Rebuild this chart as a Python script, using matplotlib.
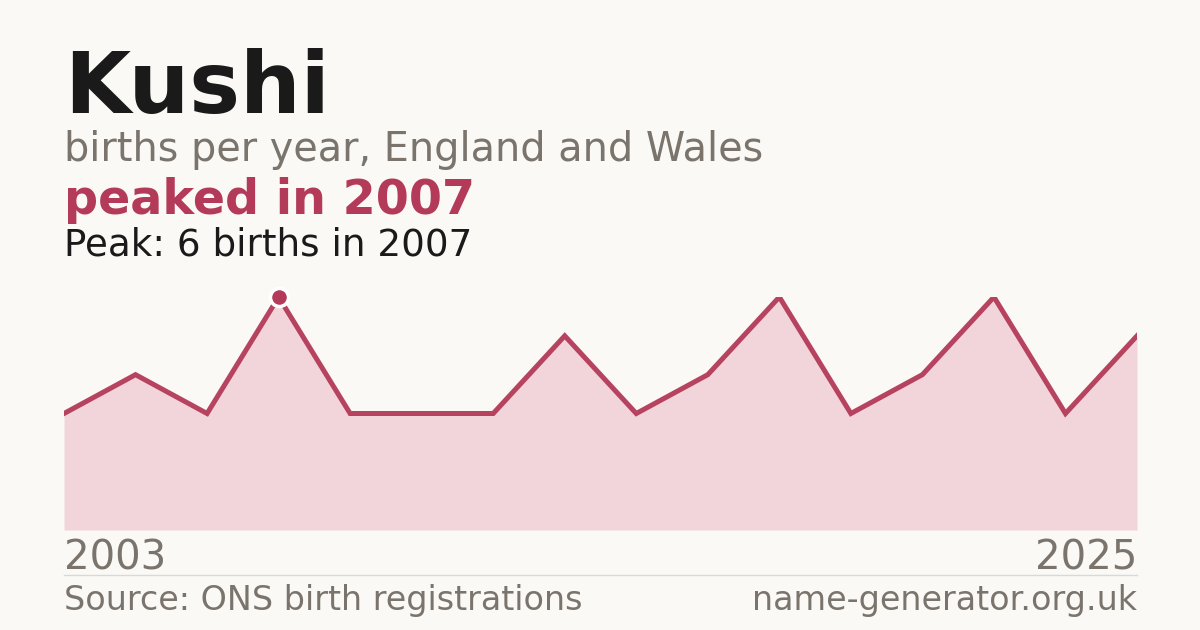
import matplotlib
matplotlib.use("Agg")
import matplotlib.pyplot as plt
from matplotlib.lines import Line2D

name = "Kushi"
subtitle = "births per year, England and Wales"
headline = "peaked in 2007"
peak_text = "Peak: 6 births in 2007"
start_label = "2003"
end_label = "2025"
source = "Source: ONS birth registrations"
site = "name-generator.org.uk"
births = [3, 4, 3, 6, 3, 3, 3, 5, 3, 4, 6, 3, 4, 6, 3, 5]
peak_index = 3

BG = "#faf9f5"
RED = "#b33a58"
FILL = "#f2d5da"
GREY = "#7a746c"

W, H = 1200, 630
fig = plt.figure(figsize=(12, 6.3), dpi=100, facecolor=BG)

def fy(px):
    return 1 - px / H

ax = fig.add_axes([64 / W, fy(530), (1137 - 64) / W, (530 - 297) / H])
ax.set_facecolor(BG)
x = list(range(len(births)))
ax.fill_between(x, births, 0, color=FILL, linewidth=0)
ax.plot(x, births, color=RED, linewidth=3.6, alpha=0.95, solid_joinstyle="miter")
ax.plot([x[peak_index]], [births[peak_index]], "o", color=RED, markersize=13,
        markeredgecolor="white", markeredgewidth=2.5, clip_on=False, zorder=5)
ax.set_xlim(0, len(births) - 1)
ax.set_ylim(0, max(births))
ax.axis("off")

fig.text(64 / W, fy(113), name, fontsize=61.5, fontweight="bold", color="#1a1a1a", va="baseline")
fig.text(64 / W, fy(161), subtitle, fontsize=28.6, color=GREY, va="baseline")
fig.text(64 / W, fy(214), headline, fontsize=34.3, fontweight="bold", color=RED, va="baseline")
fig.text(64 / W, fy(255), peak_text, fontsize=26.8, color="#1a1a1a", va="baseline")
fig.text(64 / W, fy(569), start_label, fontsize=29, color=GREY, va="baseline")
fig.text(1137 / W, fy(569), end_label, fontsize=29, color=GREY, va="baseline", ha="right")
fig.add_artist(Line2D([64 / W, 1137 / W], [fy(574.5), fy(574.5)], color="#dcd9d2", linewidth=1))
fig.text(64 / W, fy(610), source, fontsize=24, color=GREY, va="baseline")
fig.text(1137 / W, fy(610), site, fontsize=24, color=GREY, va="baseline", ha="right")

fig.savefig("out.png", dpi=100, facecolor=BG)
